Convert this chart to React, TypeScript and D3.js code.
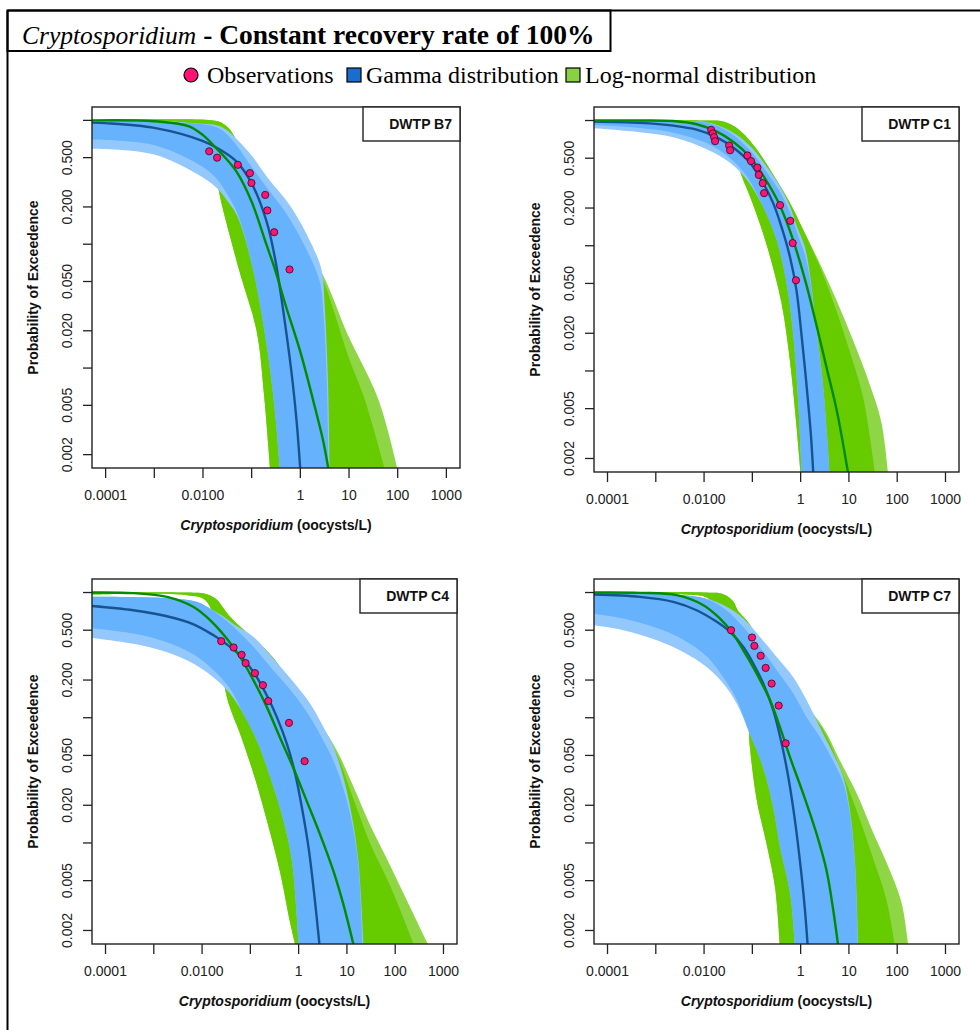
import React from "react";
import * as d3 from "d3";

type Pt = [number, number];

// axis data ranges (R extends log axes by 4% each side)
const xRange: Pt = [1e-4, 1000];
const yRange: Pt = [0.002, 1];
const xTickValues = [1e-4, 1e-3, 1e-2, 1e-1, 1, 10, 100, 1000];
const xTickText = ["0.0001", "", "0.0100", "", "1", "10", "100", "1000"];
const yTickValues = [1, 0.5, 0.2, 0.1, 0.05, 0.02, 0.01, 0.005, 0.002];
const yTickText = ["", "0.500", "0.200", "", "0.050", "0.020", "", "0.005", "0.002"];

const plants = ["DWTP B7", "DWTP C1", "DWTP C4", "DWTP C7"];

// ---------- DWTP B7 ----------
const obsB7: Pt[] = [[0.0134, 0.5625], [0.0195, 0.5], [0.052, 0.4375], [0.092, 0.375], [0.099, 0.3125], [0.19, 0.25], [0.21, 0.1875], [0.29, 0.125], [0.6, 0.0625]];
const gammaFitB7: Pt[] = [[5e-5, 0.96], [1e-4, 0.95], [1e-3, 0.87], [0.01, 0.68], [0.03, 0.54], [0.05, 0.46], [0.1, 0.31], [0.2, 0.155], [0.3, 0.078], [0.5, 0.021], [0.7, 0.0075], [0.85, 0.0035], [1, 0.0015]];
const lnormFitB7: Pt[] = [[5e-5, 1.0], [1e-3, 0.985], [0.005, 0.9], [0.01, 0.76], [0.02, 0.58], [0.03, 0.49], [0.05, 0.38], [0.1, 0.22], [0.2, 0.1], [0.3, 0.063], [0.5, 0.032], [1, 0.0135], [2, 0.0048], [3, 0.0025], [3.8, 0.0015]];
const gammaUpB7: Pt[] = [[5e-5, 0.985], [1e-3, 0.975], [0.01, 0.94], [0.02, 0.91], [0.03, 0.84], [0.042, 0.75], [0.1, 0.52], [0.2, 0.355], [0.7, 0.19], [2.2, 0.08], [2.8, 0.059], [3.2, 0.029], [3.7, 0.0077], [4.0, 0.0015]];
const gammaCoreUpB7: Pt[] = [[5e-5, 0.985], [1e-3, 0.975], [0.01, 0.93], [0.02, 0.87], [0.03, 0.78], [0.05, 0.62], [0.1, 0.42], [0.2, 0.29], [0.5, 0.18], [1.35, 0.09], [2.5, 0.05], [3.0, 0.027], [3.5, 0.0077], [3.8, 0.0015]];
const gammaCoreLoB7: Pt[] = [[5e-5, 0.7], [1e-3, 0.63], [0.01, 0.42], [0.02, 0.33], [0.03, 0.26], [0.05, 0.18], [0.1, 0.07], [0.2, 0.016], [0.3, 0.0045], [0.38, 0.0015]];
const gammaLoB7: Pt[] = [[5e-5, 0.59], [1e-3, 0.53], [0.01, 0.345], [0.02, 0.28], [0.03, 0.23], [0.05, 0.17], [0.1, 0.07], [0.2, 0.016], [0.3, 0.0045], [0.38, 0.0015]];
const lnormUpB7: Pt[] = [[5e-5, 1.0], [0.015, 1.0], [0.025, 0.95], [0.035, 0.85], [0.06, 0.6], [0.1, 0.45], [0.3, 0.25], [1, 0.12], [3, 0.055], [4.8, 0.036], [9, 0.0194], [40, 0.0056], [100, 0.0015]];
const lnormCoreB7: Pt[] = [[5e-5, 1.0], [0.015, 1.0], [0.025, 0.95], [0.035, 0.85], [0.06, 0.6], [0.1, 0.45], [0.3, 0.25], [1, 0.12], [3, 0.05], [5, 0.028], [10, 0.012], [21, 0.0056], [55, 0.0015]];
const lnormLoB7: Pt[] = [[5e-5, 0.96], [0.005, 0.95], [0.012, 0.8], [0.018, 0.4], [0.022, 0.25], [0.035, 0.12], [0.06, 0.055], [0.126, 0.02], [0.18, 0.006], [0.24, 0.0015]];

// ---------- DWTP C1 ----------
const obsC1: Pt[] = [[0.014, 0.842], [0.0152, 0.789], [0.0161, 0.737], [0.0169, 0.684], [0.033, 0.632], [0.0346, 0.579], [0.0789, 0.526], [0.094, 0.474], [0.127, 0.421], [0.136, 0.368], [0.164, 0.316], [0.175, 0.263], [0.374, 0.211], [0.611, 0.158], [0.685, 0.105], [0.8, 0.053]];
const gammaFitC1: Pt[] = [[5e-5, 0.98], [4.7e-4, 0.957], [0.0023, 0.91], [0.007, 0.846], [0.0183, 0.734], [0.04, 0.609], [0.089, 0.461], [0.166, 0.318], [0.27, 0.219], [0.4, 0.142], [0.6, 0.0816], [0.82, 0.044], [1.04, 0.0196], [1.32, 0.0078], [1.63, 0.0031], [1.83, 0.0015]];
const lnormFitC1: Pt[] = [[5e-5, 1.0], [4.7e-4, 1.0], [0.0023, 0.99], [0.007, 0.934], [0.0183, 0.815], [0.04, 0.677], [0.089, 0.512], [0.166, 0.365], [0.32, 0.236], [0.51, 0.156], [0.83, 0.09], [1.33, 0.048], [2.14, 0.023], [3.45, 0.0106], [5.56, 0.0049], [9.7, 0.0015]];
const gammaUpC1: Pt[] = [[5e-5, 0.99], [0.0023, 0.985], [0.0113, 0.97], [0.0345, 0.83], [0.089, 0.63], [0.196, 0.43], [0.37, 0.3], [0.6, 0.206], [0.89, 0.134], [1.22, 0.098], [1.55, 0.06], [1.98, 0.027], [2.9, 0.0078], [4.0, 0.0015]];
const gammaCoreUpC1: Pt[] = [[5e-5, 0.99], [0.0023, 0.985], [0.0113, 0.96], [0.0345, 0.8], [0.089, 0.58], [0.196, 0.39], [0.37, 0.27], [0.6, 0.185], [0.89, 0.12], [1.22, 0.085], [1.55, 0.055], [1.98, 0.026], [2.9, 0.0078], [4.0, 0.0015]];
const gammaCoreLoC1: Pt[] = [[5e-5, 0.92], [4.7e-4, 0.87], [0.0023, 0.8], [0.0113, 0.66], [0.0345, 0.5], [0.076, 0.36], [0.166, 0.206], [0.319, 0.111], [0.513, 0.0496], [0.7, 0.0196], [0.89, 0.0057], [1.05, 0.0015]];
const gammaLoC1: Pt[] = [[5e-5, 0.867], [4.7e-4, 0.805], [0.0023, 0.734], [0.0113, 0.59], [0.0345, 0.46], [0.076, 0.338], [0.166, 0.206], [0.319, 0.111], [0.513, 0.0496], [0.7, 0.0196], [0.89, 0.0057], [1.05, 0.0015]];
const lnormUpC1: Pt[] = [[5e-5, 1.0], [0.0113, 1.0], [0.0252, 0.98], [0.056, 0.83], [0.123, 0.59], [0.27, 0.37], [0.6, 0.22], [1.13, 0.134], [2.5, 0.072], [5.56, 0.0365], [12.3, 0.0174], [27, 0.0078], [47, 0.0039], [65, 0.0015]];
const lnormCoreC1: Pt[] = [[5e-5, 1.0], [0.0113, 1.0], [0.0252, 0.98], [0.056, 0.83], [0.123, 0.59], [0.27, 0.37], [0.6, 0.22], [1.13, 0.134], [2.5, 0.068], [5.56, 0.03], [12, 0.012], [20, 0.006], [35, 0.0015]];
const lnormLoC1: Pt[] = [[5e-5, 0.985], [0.005, 0.975], [0.02, 0.9], [0.04, 0.55], [0.06, 0.36], [0.1, 0.22], [0.2, 0.1], [0.4, 0.035], [0.6, 0.012], [0.8, 0.004], [1.0, 0.0015]];

// ---------- DWTP C4 ----------
const obsC4: Pt[] = [[0.0249, 0.409], [0.045, 0.364], [0.0659, 0.318], [0.0798, 0.273], [0.1245, 0.227], [0.182, 0.182], [0.235, 0.136], [0.631, 0.091], [1.33, 0.045]];
const gammaFitC4: Pt[] = [[5e-5, 0.782], [3.8e-4, 0.721], [0.00187, 0.646], [0.00667, 0.557], [0.0173, 0.455], [0.0327, 0.385], [0.0618, 0.314], [0.117, 0.231], [0.221, 0.15], [0.356, 0.1006], [0.573, 0.0615], [0.853, 0.0353], [1.17, 0.0191], [1.61, 0.0091], [2.11, 0.00385], [2.72, 0.0015]];
const lnormFitC4: Pt[] = [[5e-5, 1.0], [3.8e-4, 0.988], [0.00187, 0.923], [0.00667, 0.767], [0.0148, 0.6], [0.0327, 0.428], [0.0618, 0.305], [0.117, 0.198], [0.221, 0.121], [0.41, 0.0696], [0.77, 0.04], [1.47, 0.0216], [2.8, 0.0116], [5.3, 0.0059], [8.5, 0.0032], [13.9, 0.0015]];
const gammaUpC4: Pt[] = [[5e-5, 0.925], [0.002, 0.9], [0.008, 0.84], [0.015, 0.74], [0.025, 0.66], [0.0448, 0.56], [0.117, 0.441], [0.3, 0.296], [0.79, 0.192], [1.75, 0.129], [3.3, 0.0837], [5.3, 0.058], [8.5, 0.033], [12.5, 0.0169], [17.3, 0.0071], [22, 0.0015]];
const gammaCoreUpC4: Pt[] = [[5e-5, 0.925], [0.002, 0.9], [0.008, 0.84], [0.015, 0.74], [0.025, 0.64], [0.045, 0.53], [0.117, 0.367], [0.3, 0.238], [0.79, 0.155], [1.75, 0.1], [3.3, 0.065], [5.3, 0.045], [8.5, 0.027], [12.5, 0.015], [17.3, 0.0065], [21, 0.0015]];
const gammaCoreLoC4: Pt[] = [[5e-5, 0.52], [3.8e-4, 0.47], [0.00187, 0.4], [0.00667, 0.32], [0.0173, 0.24], [0.0385, 0.17], [0.072, 0.107], [0.137, 0.0655], [0.26, 0.0333], [0.49, 0.0149], [0.73, 0.0071], [1.0, 0.0015]];
const gammaLoC4: Pt[] = [[5e-5, 0.435], [3.8e-4, 0.39], [0.00187, 0.334], [0.00667, 0.27], [0.0173, 0.21], [0.0385, 0.155], [0.072, 0.107], [0.137, 0.0655], [0.26, 0.0333], [0.49, 0.0149], [0.73, 0.0071], [1.0, 0.0015]];
const lnormUpC4: Pt[] = [[5e-5, 1.0], [0.0049, 1.0], [0.0126, 0.97], [0.02, 0.88], [0.03, 0.72], [0.0448, 0.6], [0.3, 0.3], [1.1, 0.137], [2.8, 0.089], [6.3, 0.054], [13.9, 0.0277], [30, 0.014], [66, 0.0076], [180, 0.0034], [500, 0.0015]];
const lnormCoreC4: Pt[] = [[5e-5, 1.0], [0.0049, 1.0], [0.0126, 0.97], [0.02, 0.88], [0.03, 0.72], [0.0448, 0.6], [0.3, 0.3], [1.1, 0.137], [2.8, 0.089], [6.3, 0.05], [13.9, 0.022], [30, 0.01], [80, 0.0045], [250, 0.0015]];
const lnormLoC4: Pt[] = [[5e-5, 0.96], [0.005, 0.95], [0.012, 0.86], [0.02, 0.5], [0.0326, 0.146], [0.0618, 0.0737], [0.117, 0.0354], [0.221, 0.015], [0.41, 0.0059], [0.66, 0.00235], [0.86, 0.0015]];

// ---------- DWTP C7 ----------
const obsC7: Pt[] = [[0.0362, 0.5], [0.0984, 0.4375], [0.11, 0.375], [0.1486, 0.3125], [0.1887, 0.25], [0.251, 0.1875], [0.351, 0.125], [0.49, 0.0625]];
const gammaFitC7: Pt[] = [[5e-5, 0.964], [4.7e-4, 0.923], [0.0023, 0.842], [0.007, 0.722], [0.0183, 0.583], [0.0345, 0.485], [0.065, 0.367], [0.105, 0.27], [0.169, 0.187], [0.272, 0.1145], [0.405, 0.062], [0.556, 0.0335], [0.763, 0.0151], [1.0, 0.0064], [1.23, 0.0029], [1.4, 0.0015]];
const lnormFitC7: Pt[] = [[5e-5, 1.0], [4.7e-4, 0.994], [0.0027, 0.952], [0.0097, 0.792], [0.0214, 0.619], [0.0373, 0.485], [0.065, 0.345], [0.123, 0.225], [0.232, 0.138], [0.373, 0.0842], [0.601, 0.0484], [1.135, 0.0246], [2.14, 0.0118], [3.45, 0.006], [4.74, 0.0029], [6.0, 0.0015]];
const gammaUpC7: Pt[] = [[5e-5, 0.975], [0.0023, 0.964], [0.0113, 0.895], [0.0294, 0.768], [0.065, 0.62], [0.144, 0.442], [0.319, 0.306], [0.705, 0.211], [1.33, 0.138], [2.51, 0.084], [4.74, 0.0515], [7.64, 0.0337], [10.5, 0.0182], [13.3, 0.0072], [15.6, 0.0015]];
const gammaCoreUpC7: Pt[] = [[5e-5, 0.975], [0.0023, 0.964], [0.0113, 0.885], [0.0294, 0.72], [0.065, 0.53], [0.144, 0.368], [0.319, 0.239], [0.705, 0.156], [1.33, 0.101], [2.51, 0.07], [4.74, 0.045], [7.64, 0.03], [10.5, 0.017], [13.3, 0.0068], [15.3, 0.0015]];
const gammaCoreLoC7: Pt[] = [[5e-5, 0.68], [2.1e-4, 0.62], [0.00105, 0.52], [0.0037, 0.42], [0.0113, 0.31], [0.0251, 0.21], [0.0473, 0.14], [0.0888, 0.074], [0.166, 0.0404], [0.27, 0.0193], [0.375, 0.0093], [0.61, 0.0039], [0.76, 0.0015]];
const gammaLoC7: Pt[] = [[5e-5, 0.548], [2.1e-4, 0.5], [0.00105, 0.415], [0.0037, 0.335], [0.0113, 0.254], [0.0251, 0.187], [0.0473, 0.13], [0.0888, 0.074], [0.166, 0.0404], [0.27, 0.0193], [0.375, 0.0093], [0.61, 0.0039], [0.76, 0.0015]];
const lnormUpC7: Pt[] = [[5e-5, 1.0], [0.0097, 1.0], [0.025, 0.97], [0.04, 0.85], [0.05, 0.72], [0.076, 0.6], [0.5, 0.2], [2.9, 0.084], [6.5, 0.0456], [14.6, 0.0247], [32.7, 0.0118], [71, 0.006], [124, 0.0033], [170, 0.0015]];
const lnormCoreC7: Pt[] = [[5e-5, 1.0], [0.0097, 1.0], [0.025, 0.97], [0.04, 0.85], [0.05, 0.72], [0.076, 0.6], [0.5, 0.2], [2.9, 0.08], [6.5, 0.04], [14.6, 0.018], [30, 0.008], [60, 0.0035], [90, 0.0015]];
const lnormLoC7: Pt[] = [[5e-5, 0.97], [0.005, 0.96], [0.012, 0.9], [0.025, 0.6], [0.0437, 0.211], [0.0761, 0.122], [0.0888, 0.058], [0.123, 0.022], [0.197, 0.0098], [0.295, 0.0044], [0.37, 0.0015]];

const panelData = [
  { obs: obsB7, gFit: gammaFitB7, lFit: lnormFitB7, gUp: gammaUpB7, gCoreUp: gammaCoreUpB7, gCoreLo: gammaCoreLoB7, gLo: gammaLoB7, lUp: lnormUpB7, lCore: lnormCoreB7, lLo: lnormLoB7 },
  { obs: obsC1, gFit: gammaFitC1, lFit: lnormFitC1, gUp: gammaUpC1, gCoreUp: gammaCoreUpC1, gCoreLo: gammaCoreLoC1, gLo: gammaLoC1, lUp: lnormUpC1, lCore: lnormCoreC1, lLo: lnormLoC1 },
  { obs: obsC4, gFit: gammaFitC4, lFit: lnormFitC4, gUp: gammaUpC4, gCoreUp: gammaCoreUpC4, gCoreLo: gammaCoreLoC4, gLo: gammaLoC4, lUp: lnormUpC4, lCore: lnormCoreC4, lLo: lnormLoC4 },
  { obs: obsC7, gFit: gammaFitC7, lFit: lnormFitC7, gUp: gammaUpC7, gCoreUp: gammaCoreUpC7, gCoreLo: gammaCoreLoC7, gLo: gammaLoC7, lUp: lnormUpC7, lCore: lnormCoreC7, lLo: lnormLoC7 },
];

// plot regions on the page
const boxes = [
  { x: 92, y: 107, w: 368, h: 361 },
  { x: 594, y: 107, w: 365, h: 365 },
  { x: 92, y: 579, w: 365, h: 365 },
  { x: 594, y: 579, w: 365, h: 365 },
];

const BLUE = "#66b2fd";
const BLUE_LIGHT = "#93c8fc";
const GREEN = "#66cc00";
const GREEN_LIGHT = "#8fd646";
const NAVY = "#17548f";
const DKGREEN = "#008b00";
const PINK = "#ff1476";
const SANS = "'Liberation Sans', Arial, sans-serif";
const SERIF = "'Liberation Serif', 'Times New Roman', serif";

function extend(r: Pt): Pt {
  const a = Math.log10(r[0]);
  const b = Math.log10(r[1]);
  const d = (b - a) * 0.04;
  return [Math.pow(10, a - d), Math.pow(10, b + d)];
}

function Panel({ idx }: { idx: number }) {
  const box = boxes[idx];
  const data = panelData[idx];
  const xd = extend(xRange);
  const yd = extend(yRange);
  const x = d3.scaleLog().domain(xd).range([box.x, box.x + box.w]);
  const y = d3.scaleLog().domain([yd[1], yd[0]]).range([box.y, box.y + box.h]);

  const line = d3
    .line<Pt>()
    .x((d) => x(d[0]))
    .y((d) => y(d[1]))
    .curve(d3.curveCatmullRom.alpha(0.5));

  const band = (up: Pt[], lo: Pt[]) => {
    const a = line(up) || "";
    const b = line(lo.slice().reverse()) || "";
    return a + "L" + b.slice(1) + "Z";
  };

  const clipId = `clip-${idx}`;
  const bottom = box.y + box.h;
  const right = box.x + box.w;

  return (
    <g>
      <defs>
        <clipPath id={clipId}>
          <rect x={box.x} y={box.y} width={box.w} height={box.h} />
        </clipPath>
      </defs>
      <g clipPath={`url(#${clipId})`}>
        <path d={band(data.lUp, data.lLo)} fill={GREEN_LIGHT} />
        <path d={band(data.lCore, data.lLo)} fill={GREEN} />
        <path d={band(data.gUp, data.gLo)} fill={BLUE_LIGHT} />
        <path d={band(data.gCoreUp, data.gCoreLo)} fill={BLUE} />
        <path d={line(data.gFit) || ""} fill="none" stroke={NAVY} strokeWidth={2.4} />
        <path d={line(data.lFit) || ""} fill="none" stroke={DKGREEN} strokeWidth={2.4} />
      </g>
      {data.obs.map((d, i) => (
        <circle key={i} cx={x(d[0])} cy={y(d[1])} r={3.6} fill={PINK} stroke="#4a0c26" strokeWidth={0.9} />
      ))}
      <rect x={box.x} y={box.y} width={box.w} height={box.h} fill="none" stroke="#222" strokeWidth={1.4} />
      {/* y axis */}
      {yTickValues.map((v, i) => (
        <g key={"y" + i}>
          <line x1={box.x - 9} x2={box.x} y1={y(v)} y2={y(v)} stroke="#222" strokeWidth={1.3} />
          {yTickText[i] && (
            <text
              transform={`translate(${box.x - 20},${y(v)}) rotate(-90)`}
              textAnchor="middle"
              fontFamily={SANS}
              fontSize={14}
              fill="#222"
            >
              {yTickText[i]}
            </text>
          )}
        </g>
      ))}
      {/* x axis */}
      {xTickValues.map((v, i) => (
        <g key={"x" + i}>
          <line x1={x(v)} x2={x(v)} y1={bottom} y2={bottom + 10} stroke="#222" strokeWidth={1.3} />
          {xTickText[i] && (
            <text x={x(v)} y={bottom + 32} textAnchor="middle" fontFamily={SANS} fontSize={14} fill="#222">
              {xTickText[i]}
            </text>
          )}
        </g>
      ))}
      <text
        x={box.x + box.w / 2}
        y={bottom + 62}
        textAnchor="middle"
        fontFamily={SANS}
        fontSize={14}
        fontWeight="bold"
        fill="#111"
      >
        <tspan fontStyle="italic">Cryptosporidium</tspan>
        <tspan> (oocysts/L)</tspan>
      </text>
      <text
        transform={`translate(${box.x - 54},${box.y + box.h / 2}) rotate(-90)`}
        textAnchor="middle"
        fontFamily={SANS}
        fontSize={14}
        fontWeight="bold"
        fill="#111"
      >
        Probability of Exceedence
      </text>
      {/* plant label box */}
      <rect x={right - 97} y={box.y} width={97} height={34} fill="#fff" stroke="#222" strokeWidth={1.4} />
      <text x={right - 8} y={box.y + 22} textAnchor="end" fontFamily={SANS} fontSize={14} fontWeight="bold" fill="#111">
        {plants[idx]}
      </text>
    </g>
  );
}

export default function App() {
  return (
    <svg
      width={980}
      height={1030}
      style={{ position: "absolute", left: 0, top: 0, background: "#fff" }}
    >
      <rect x={0} y={0} width={980} height={1030} fill="#fff" />
      {/* frame */}
      <line x1={7.5} x2={980} y1={10.5} y2={10.5} stroke="#000" strokeWidth={2} />
      <line x1={7.5} x2={7.5} y1={10.5} y2={1030} stroke="#000" strokeWidth={2} />
      <rect x={7.5} y={10.5} width={603} height={40.5} fill="none" stroke="#000" strokeWidth={2} />
      <text x={22} y={43.5} fontFamily={SERIF} fill="#000">
        <tspan fontStyle="italic" fontSize={25.5}>Cryptosporidium</tspan>
        <tspan fontWeight="bold" fontSize={27.5}> - Constant recovery rate of 100%</tspan>
      </text>
      {/* legend */}
      <circle cx={191} cy={75} r={7} fill={PINK} stroke="#000" strokeWidth={1.2} />
      <text x={207} y={82.5} fontFamily={SERIF} fontSize={24} fill="#000">Observations</text>
      <rect x={347} y={68} width={14} height={14} fill="#1a6dcc" stroke="#000" strokeWidth={1.2} />
      <text x={366} y={82.5} fontFamily={SERIF} fontSize={24} fill="#000">Gamma distribution</text>
      <rect x={566} y={68} width={14} height={14} fill="#88d046" stroke="#000" strokeWidth={1.2} />
      <text x={585} y={82.5} fontFamily={SERIF} fontSize={24} fill="#000">Log-normal distribution</text>
      {[0, 1, 2, 3].map((i) => (
        <Panel key={i} idx={i} />
      ))}
    </svg>
  );
}
